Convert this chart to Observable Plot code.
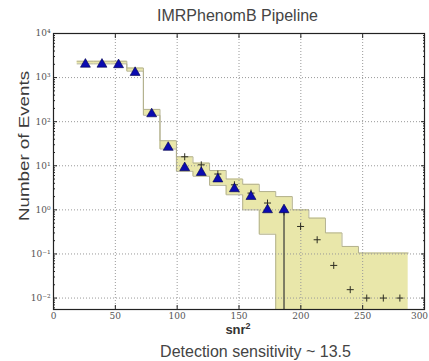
<!DOCTYPE html>
<html>
<head>
<meta charset="utf-8">
<script src="https://cdn.jsdelivr.net/npm/d3@7"></script>
<script src="https://cdn.jsdelivr.net/npm/@observablehq/plot@0.6"></script>
<style>
  html, body { margin: 0; padding: 0; background: #fff; }
  body { width: 429px; height: 361px; overflow: hidden; font-family: "Liberation Sans", Arial, sans-serif; }
  #title { height: 26px; margin-left: 46px; width: 383px; text-align: center; font-size: 16px; line-height: 26px; color: #444; }
  #title span { position: relative; top: 3px; }
  #chart { position: relative; width: 429px; height: 310px; }
  #chart svg { display: block; }
  #ylabel { position: absolute; left: 23px; top: 120px; white-space: nowrap; font-size: 15px; color: #3a3a3a;
            transform: translate(-50%, -50%) rotate(-90deg) scale(1.25, 1); }
  #xlabel { position: absolute; left: 238px; top: 295px; transform: translateX(-50%); font-size: 13px; font-weight: bold; color: #333; white-space: nowrap; }
  #caption { height: 25px; margin-left: 82px; width: 347px; text-align: center; font-size: 16px; line-height: 25px; color: #444; }
  #caption span { position: relative; top: 3px; }
</style>
</head>
<body>
<div id="title"><span>IMRPhenomB Pipeline</span></div>
<div id="chart">
  <div id="ylabel">Number of Events</div>
  <div id="xlabel">snr<sup style="font-size:9px">2</sup></div>
</div>
<div id="caption"><span>Detection sensitivity ~ 13.5</span></div>
<script>
// ---- data ----
const binEdges = [19.1, 32.5, 45.9, 59.3, 72.7, 86.1, 99.4, 112.8, 126.2, 139.6, 153.0,
                  166.4, 179.7, 193.1, 206.5, 219.9, 233.3, 246.6, 260.0, 273.4, 286.8];
// observed events (blue triangles), bins 1..13
const observed = [2000, 2000, 1950, 1300, 150, 26, 9, 7, 5, 3, 2, 1, 1];
// expected background band (yellow), bins 1..20
const bandLow  = [2050, 2050, 2050, 1400, 140, 24, 7.5, 5.8, 3.6, 2.2, 1.0, 0.28, 0, 0, 0, 0, 0, 0, 0, 0];
const bandHigh = [2350, 2350, 2350, 1650, 190, 37, 16, 11.5, 7.8, 5.0, 3.8, 2.6, 2.0, 1.0, 0.65, 0.30, 0.148, 0.105, 0.105, 0.105];
// expected background (black plus), bins 7..20
const background = [null, null, null, null, null, null, 16, 10.5, 6.5, 3.7, 2.4, 1.43, 0.9, 0.42, 0.21, 0.055, 0.0155, 0.01, 0.01, 0.01];
// tick labels
const yTicks = [0.01, 0.1, 1, 10, 100, 1000, 10000];
const yTickLabels = ["10⁻²", "10⁻¹", "10⁰", "10¹", "10²", "10³", "10⁴"];
const xTicks = [0, 50, 100, 150, 200, 250, 300];
const xTickLabels = ["0", "50", "100", "150", "200", "250", "300"];

// ---- derived tables ----
const yDomain = [0.0055, 10000];
const floorVal = 1e-4; // zero on a log axis, clipped
const centers = binEdges.slice(0, -1).map((e, i) => (e + binEdges[i + 1]) / 2);
const bandPts = bandHigh.flatMap((hi, i) => {
  const lo = bandLow[i] > 0 ? bandLow[i] : floorVal;
  return [{x: binEdges[i], lo, hi}, {x: binEdges[i + 1], lo, hi}];
});
const obsData = observed.map((v, i) => ({x: centers[i], y: v}));
const bgData = background.map((v, i) => ({x: centers[i], y: v})).filter(d => d.y != null);
const lastObs = obsData.filter((d, i) => i === observed.length - 1); // error bar reaching zero
const yLabelMap = new Map(yTicks.map((t, i) => [t, yTickLabels[i]]));
const xLabelMap = new Map(xTicks.map((t, i) => [t, xTickLabels[i]]));
const yMinor = d3.scaleLog().domain(yDomain).ticks().filter(t => !yTicks.some(m => Math.abs(m - t) / m < 1e-9));
const gridY = yTicks.filter(t => t < 10000);
const gridX = xTicks.filter(t => t > 0 && t < 300);
const xTicksInner = xTicks.slice(0, -1);
const xTickLast = xTicks.slice(-1);

const tickColor = "#222";
const labelFont = {fontFamily: "DejaVu Serif", fontSize: 9, fill: "#555"};

const chart = Plot.plot({
  width: 429,
  height: 310,
  marginLeft: 53,
  marginRight: 5,
  marginTop: 7,
  marginBottom: 27,
  style: {background: "#fff", overflow: "visible"},
  x: {domain: [0, 300]},
  y: {type: "log", domain: yDomain},
  marks: [
    Plot.areaY(bandPts, {x: "x", y1: "lo", y2: "hi", fill: "#e9e7aa", clip: true}),
    Plot.lineY(bandPts, {x: "x", y: "hi", stroke: "#b3b18e", strokeWidth: 1, clip: true}),
    Plot.lineY(bandPts, {x: "x", y: "lo", stroke: "#b3b18e", strokeWidth: 1, clip: true}),
    Plot.gridY(gridY, {stroke: "#999", strokeOpacity: 1, strokeDasharray: "1,2"}),
    Plot.gridX(gridX, {stroke: "#999", strokeOpacity: 1, strokeDasharray: "1,2"}),
    Plot.ruleX(lastObs, {x: "x", y1: floorVal, y2: "y", stroke: "#5a5a4c", strokeWidth: 1.5, clip: true}),
    Plot.dot(bgData, {x: "x", y: "y", symbol: "plus", r: 2.4, stroke: "#2e2e22", strokeWidth: 1}),
    Plot.dot(obsData, {x: "x", y: "y", symbol: "triangle", r: 3.7, fill: "#0b0bb0", stroke: "#00004a", strokeWidth: 0.6}),
    Plot.frame({stroke: "#222", strokeWidth: 1.2}),
    // labels
    Plot.axisY(yTicks, {anchor: "left", tickSize: 0, tickPadding: 3, label: null, tickFormat: d => yLabelMap.get(d), ...labelFont}),
    Plot.axisX(xTicksInner, {anchor: "bottom", tickSize: 0, tickPadding: 3, label: null, tickFormat: d => xLabelMap.get(d), ...labelFont}),
    Plot.axisX(xTickLast, {anchor: "bottom", tickSize: 0, tickPadding: 3, label: null, tickFormat: d => xLabelMap.get(d), dx: -5, ...labelFont}),
    // inward ticks
    Plot.axisY(yTicks, {anchor: "left", tickSize: -4, label: null, tickFormat: () => "", stroke: tickColor}),
    Plot.axisY(yTicks, {anchor: "right", tickSize: -4, label: null, tickFormat: () => "", stroke: tickColor}),
    Plot.axisY(yMinor, {anchor: "left", tickSize: -2, label: null, tickFormat: () => "", stroke: tickColor}),
    Plot.axisY(yMinor, {anchor: "right", tickSize: -2, label: null, tickFormat: () => "", stroke: tickColor}),
    Plot.axisX(xTicks, {anchor: "bottom", tickSize: -4, label: null, tickFormat: () => "", stroke: tickColor}),
    Plot.axisX(xTicks, {anchor: "top", tickSize: -4, label: null, tickFormat: () => "", stroke: tickColor})
  ]
});
document.getElementById("chart").prepend(chart);
</script>
</body>
</html>
